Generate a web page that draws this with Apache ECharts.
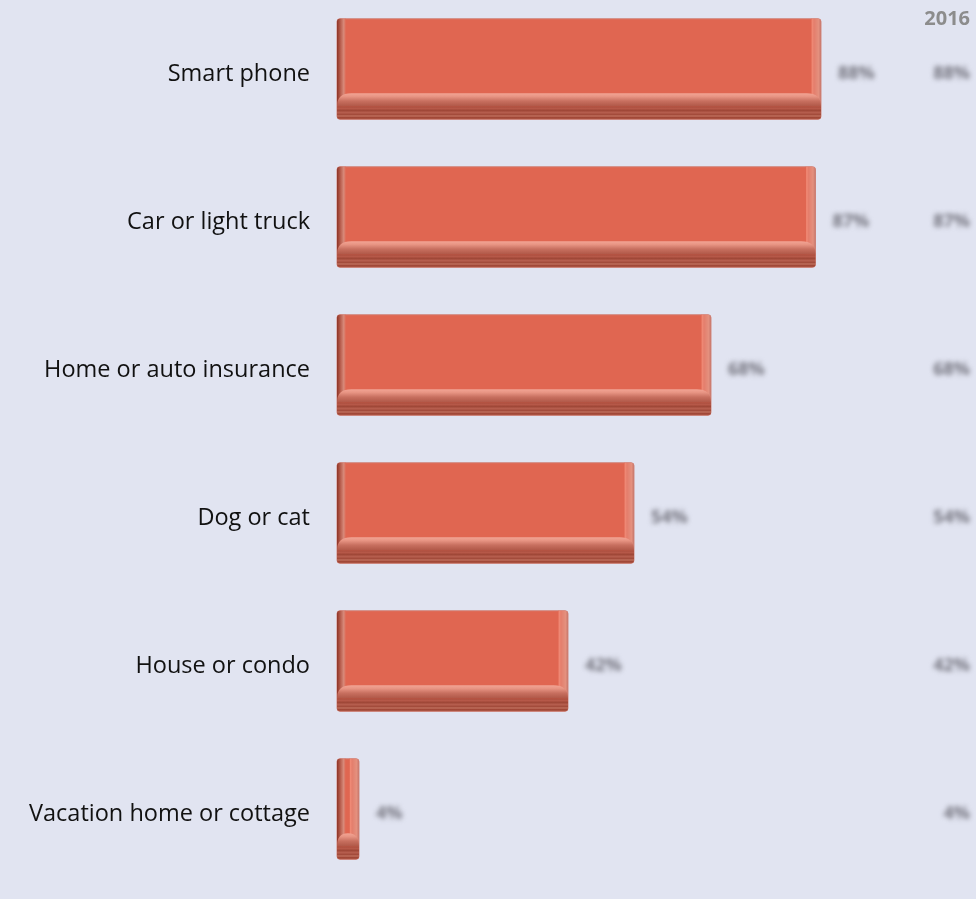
<!DOCTYPE html>
<html>
<head>
<meta charset="utf-8">
<script src="https://cdn.jsdelivr.net/npm/echarts@6/dist/echarts.min.js"></script>
<style>
  html, body { margin: 0; padding: 0; background: #e1e4f1; overflow: hidden; }
  #wrap { position: relative; width: 976px; height: 899px; overflow: hidden; }
  #chart, #labels { position: absolute; left: 0; top: -5px; width: 976px; height: 904px; }
  #labels { filter: blur(2.8px); pointer-events: none; }
</style>
</head>
<body>
<div id="wrap">
  <div id="chart"></div>
  <div id="labels"></div>
</div>
<script>
// Share of respondents owning each item
const categories = ['Smart phone', 'Car or light truck', 'Home or auto insurance', 'Dog or cat', 'House or condo', 'Vacation home or cottage'];
const shareValues = [88, 87, 68, 54, 42, 4];
const share2016 = [88, 87, 68, 54, 42, 4];
const yearLabel = '2016';

const GRID = { left: 337, right: 89, top: 0, height: 888 };
const FONT = '"Open Sans", "Noto Sans", sans-serif';

// Draws one bevelled bar from the axis origin to the value
function renderBevelBar(params, api) {
  const cat = api.value(0);
  const val = api.value(1);
  const start = api.coord([0, cat]);
  const end = api.coord([val, cat]);
  const band = api.size([0, 1])[1];
  const h = band * 0.68;
  const x0 = start[0], x1 = Math.max(end[0], x0 + 1);
  const y0 = start[1] - h / 2, y1 = start[1] + h / 2;
  const w = x1 - x0;
  const side = Math.min(9, w * 0.4);
  const bev = h * 0.13;
  const lg = echarts.graphic.LinearGradient;
  const kids = [];
  // body
  kids.push({ type: 'rect', shape: { x: x0, y: y0, width: w, height: h, r: 3 },
    style: { fill: '#e06651', stroke: '#d28a82', lineWidth: 1 } });
  // left edge
  kids.push({ type: 'rect', shape: { x: x0, y: y0, width: side, height: h - bev, r: [3, 0, 0, 0] },
    style: { fill: new lg(0, 0, 1, 0, [
      { offset: 0, color: '#8e3426' }, { offset: 0.35, color: '#b45a4a' },
      { offset: 0.75, color: '#d88a7a' }, { offset: 1, color: '#e06651' }]) } });
  // right edge
  kids.push({ type: 'rect', shape: { x: x1 - side - 1, y: y0, width: side + 1, height: h - bev, r: [0, 3, 0, 0] },
    style: { fill: new lg(0, 0, 1, 0, [
      { offset: 0, color: '#e06651' }, { offset: 0.12, color: '#f08a76' },
      { offset: 0.3, color: '#e47e6c' }, { offset: 0.75, color: '#e4907e' },
      { offset: 1, color: '#c8786c' }]) } });
  // lower bevel, curved upper corners
  const yb = y1 - 2 * bev, ym = y1 - bev;
  const c = Math.min(side * 1.6, w / 2);
  kids.push({ type: 'path',
    shape: { pathData: 'M' + x0 + ' ' + ym + ' Q' + x0 + ' ' + yb + ' ' + (x0 + c) + ' ' + yb +
      ' L' + (x1 - c) + ' ' + yb + ' Q' + x1 + ' ' + yb + ' ' + x1 + ' ' + ym + ' Z' },
    style: { fill: new lg(0, 0, 0, 1, [
      { offset: 0, color: '#f2a595' }, { offset: 0.25, color: '#e89584' },
      { offset: 0.6, color: '#c87060' }, { offset: 1, color: '#b05848' }]) } });
  // base stripes
  kids.push({ type: 'rect', shape: { x: x0, y: ym, width: w, height: bev, r: [0, 0, 3, 3] },
    style: { fill: new lg(0, 0, 0, 1, [
      { offset: 0, color: '#a84c3c' }, { offset: 0.2, color: '#b85a4a' },
      { offset: 0.3, color: '#9c4434' }, { offset: 0.5, color: '#b86050' },
      { offset: 0.62, color: '#a04838' }, { offset: 0.75, color: '#c0705e' },
      { offset: 0.85, color: '#a04636' }, { offset: 1, color: '#b05a48' }]) } });
  return { type: 'group', children: kids };
}

const chart = echarts.init(document.getElementById('chart'));
chart.setOption({
  backgroundColor: '#e1e4f1',
  animation: false,
  title: {
    text: yearLabel, right: 1, top: 9,
    textStyle: { fontFamily: FONT, fontSize: 20, fontWeight: 'bold', color: '#8c8c8c' }
  },
  grid: GRID,
  xAxis: { type: 'value', min: 0, max: 100, show: false },
  yAxis: {
    type: 'category', data: categories, inverse: true,
    axisLine: { show: false }, axisTick: { show: false },
    axisLabel: {
      margin: 27, formatter: v => '{c|' + v + '}',
      rich: { c: { fontFamily: FONT, fontSize: 23.5, color: '#111', padding: [10, 0, 0, 0] } }
    }
  },
  series: [{
    type: 'custom',
    renderItem: renderBevelBar,
    encode: { x: 1, y: 0 },
    data: shareValues.map((v, i) => [i, v])
  }]
});

// Value labels, softened
const labelChart = echarts.init(document.getElementById('labels'));
labelChart.setOption({
  animation: false,
  grid: GRID,
  xAxis: { type: 'value', min: 0, max: 100, show: false },
  yAxis: [{
    type: 'category', data: categories, inverse: true, show: false
  }, {
    type: 'category', data: share2016.map(v => v + '%'), inverse: true, position: 'right',
    axisLine: { show: false }, axisTick: { show: false },
    axisLabel: {
      margin: 83, align: 'right', formatter: v => '{v|' + v + '}',
      rich: { v: { fontFamily: FONT, fontSize: 18, fontWeight: 'bold', color: '#767680', padding: [10, 0, 0, 0] } }
    }
  }],
  series: [{
    type: 'bar', data: shareValues, barWidth: '68%',
    itemStyle: { color: 'rgba(0,0,0,0)' },
    label: {
      show: true, position: 'right', distance: 17, formatter: '{c}%', offset: [0, 5],
      fontFamily: FONT, fontSize: 18, fontWeight: 'bold', color: '#767680'
    }
  }]
});
</script>
</body>
</html>
